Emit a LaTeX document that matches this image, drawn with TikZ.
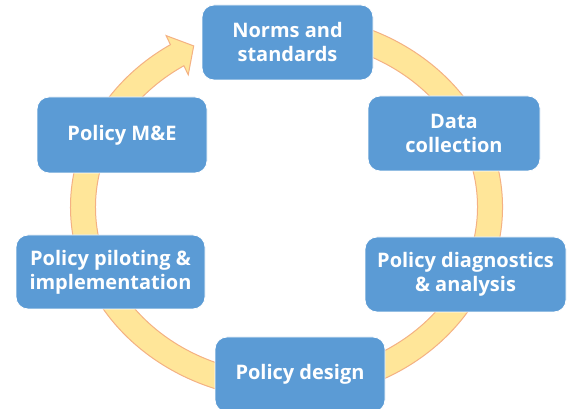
\documentclass[tikz,border=0pt]{standalone}
\usepackage{fontspec}
\setmainfont{Open Sans}
\usetikzlibrary{calc}
\definecolor{boxblue}{HTML}{5B9BD5}
\definecolor{ringfill}{HTML}{FFE699}
\definecolor{ringedge}{HTML}{F4B183}
\tikzset{
  stagebox/.style={rectangle, rounded corners=12pt, fill=boxblue, draw=white, line width=0.8pt,
    text=white, font=\fontsize{20}{24}\selectfont\bfseries, align=center, inner sep=0pt},
  ringstyle/.style={fill=ringfill, draw=ringedge, line width=1pt, line join=miter}
}
\begin{document}
\begin{tikzpicture}[x=1pt,y=1pt]
\useasboundingbox (0,0) rectangle (568,409);
\clip (0,0) rectangle (568,409);
\fill[white] (0,0) rectangle (568,409);
\coordinate (C) at (286.5,202);
\coordinate (ob) at ($(C)+(-120.4,171.4)$);
\coordinate (tp) at ($(C)+(-92.8,161.1)$);
\coordinate (ib) at ($(C)+(-98.25,132.2)$);
% circular arrow
\path[ringstyle] ([shift={(C)}]100:216pt and 192.5pt)
  arc[start angle=100, end angle=-237.5, x radius=216pt, y radius=192.5pt]
  -- (ob) -- (tp) -- (ib)
  -- ([shift={(C)}]-237.5:191pt and 167.5pt)
  arc[start angle=-237.5, end angle=100, x radius=191pt, y radius=167.5pt]
  -- cycle;
% stages
\node[stagebox, minimum width=171pt, minimum height=75pt] (norms) at (287.5,366.5) {Norms and\\standards};
\node[stagebox, minimum width=172pt, minimum height=75pt] (data) at (454,275.5) {Data\\collection};
\node[stagebox, minimum width=201pt, minimum height=75pt] (diag) at (465.5,134.5) {Policy diagnostics\\\& analysis};
\node[stagebox, minimum width=170pt, minimum height=75pt] (design) at (300,34.5) {Policy design};
\node[stagebox, minimum width=189pt, minimum height=74pt] (pilot) at (110.5,137) {Policy piloting \&\\implementation};
\node[stagebox, minimum width=170pt, minimum height=76pt] (me) at (122,274) {Policy M\&E};
\end{tikzpicture}
\end{document}
